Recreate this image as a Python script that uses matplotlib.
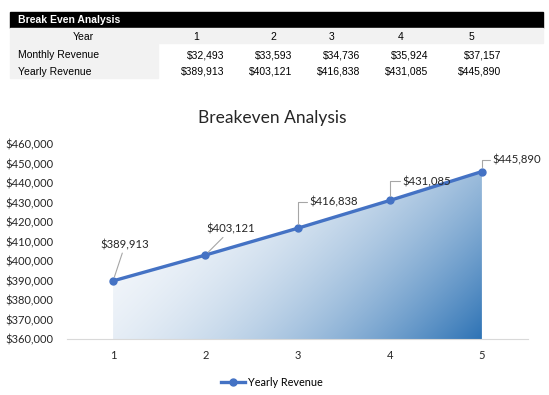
import matplotlib.pyplot as plt
import numpy as np
from matplotlib.patches import Rectangle

years = [1, 2, 3, 4, 5]
monthly_revenue = [32493, 33593, 34736, 35924, 37157]
yearly_revenue = [389913, 403121, 416838, 431085, 445890]
y_ticks = list(range(360000, 460001, 10000))

W, H = 549, 395


def fx(x):
    return x / W


def fy(y):
    return 1 - y / H


def money(v):
    return f"${v:,.0f}"


fig = plt.figure(figsize=(W / 100, H / 100), dpi=100)

# ---- table on top ----
table_font = "Liberation Sans"
fig.patches.append(Rectangle((fx(10), fy(28)), fx(533), 16 / H, transform=fig.transFigure,
                             color="black", zorder=0))
fig.patches.append(Rectangle((fx(10), fy(43)), fx(533), 15 / H, transform=fig.transFigure,
                             color="#f2f2f2", zorder=0))
fig.patches.append(Rectangle((fx(10), fy(78)), fx(148), 35 / H, transform=fig.transFigure,
                             color="#f2f2f2", zorder=0))
fig.text(fx(18), fy(20), "Break Even Analysis", color="white", fontweight="bold",
         fontsize=7.5, family=table_font, va="center")
fig.text(fx(83), fy(37), "Year", fontsize=7.5, family=table_font, ha="center", va="center")
fig.text(fx(18), fy(55), "Monthly Revenue", fontsize=7.5, family=table_font, va="center")
fig.text(fx(18), fy(72), "Yearly Revenue", fontsize=7.5, family=table_font, va="center")
year_cols = [196, 273, 332, 401, 471]
value_right = [224, 292, 360, 428, 501]
for i in range(5):
    fig.text(fx(year_cols[i]), fy(37), str(years[i]), fontsize=7.5, family=table_font,
             ha="center", va="center")
    fig.text(fx(value_right[i]), fy(55), money(monthly_revenue[i]), fontsize=7.5,
             family=table_font, ha="right", va="center")
    fig.text(fx(value_right[i]), fy(72), money(yearly_revenue[i]), fontsize=7.5,
             family=table_font, ha="right", va="center")

# ---- chart ----
chart_font = "Lato"
ax = fig.add_axes([fx(67), fy(339.3), fx(461), (339.3 - 144) / H])
ax.set_xlim(0.5, 5.5)
ax.set_ylim(360000, 460000)

# gradient filled area under the line, light top-left -> dark bottom-right
fill = ax.fill_between(years, yearly_revenue, 360000, color="none", lw=0)
u = np.linspace(0, 1, 370)[None, :]
v = np.linspace(0, 1, 170)[:, None]
t = np.clip(0.69 * u + 0.31 * v, 0, 1) ** 2.1
c0 = np.array([0xf7, 0xf9, 0xfc]) / 255
c1 = np.array([0x2e, 0x73, 0xb5]) / 255
img = c0 + (c1 - c0) * t[..., None]
im = ax.imshow(img, extent=[years[0], years[-1], 360000, max(yearly_revenue)],
               aspect="auto", origin="upper", zorder=1, interpolation="bilinear")
im.set_clip_path(fill.get_paths()[0], transform=ax.transData)

ax.plot(years, yearly_revenue, color="#4472c4", lw=2.4, marker="o", markersize=5,
        zorder=3, label="Yearly Revenue")

# data labels with leader lines
lbl = dict(textcoords="offset points", fontsize=8.2, family=chart_font, color="#262626")
lead = dict(arrowstyle="-", color="#a6a6a6", lw=0.8, shrinkA=0, shrinkB=3)
ax.annotate(money(yearly_revenue[0]), (years[0], yearly_revenue[0]), xytext=(8.6, 26),
            ha="center", va="center", arrowprops=lead, **lbl)
ax.annotate(money(yearly_revenue[1]), (years[1], yearly_revenue[1]), xytext=(18.7, 18.7),
            ha="center", va="center", arrowprops=lead, **lbl)
angled = dict(lead, connectionstyle="angle,angleA=0,angleB=90,rad=0")
offsets = [(8.6, 18.7), (9.4, 13.7), (7.9, 8.6)]
for i, off in zip([2, 3, 4], offsets):
    ax.annotate(money(yearly_revenue[i]), (years[i], yearly_revenue[i]), xytext=off,
                ha="left", va="center", arrowprops=angled, **lbl)

ax.set_xticks(years)
ax.set_yticks(y_ticks)
ax.set_yticklabels([money(v) for v in y_ticks])
ax.tick_params(axis="both", length=0, labelsize=8, labelcolor="#262626")
ax.tick_params(axis="y", pad=10)
ax.tick_params(axis="x", pad=8)
for lab in ax.get_xticklabels() + ax.get_yticklabels():
    lab.set_family(chart_font)
for side in ["top", "right", "left"]:
    ax.spines[side].set_visible(False)
ax.spines["bottom"].set_color("#d9d9d9")
ax.set_facecolor("none")

fig.text(fx(272), fy(118), "Breakeven Analysis", fontsize=12.5, family=chart_font,
         ha="center", va="center", color="#262626")
fig.legend(*ax.get_legend_handles_labels(), loc="center", bbox_to_anchor=(fx(272), fy(382)),
           frameon=False, handlelength=2.2, handletextpad=0.3,
           prop={"family": chart_font, "size": 7.8})

fig.savefig("out.png", dpi=100)
